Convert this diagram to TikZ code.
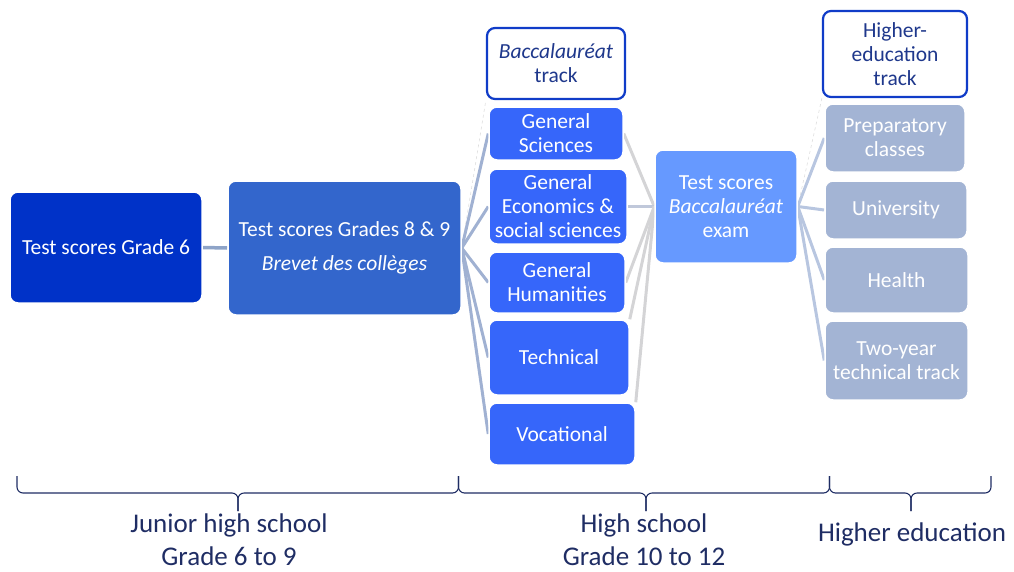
\documentclass[tikz,border=0pt]{standalone}
\usepackage{fontspec}
\setmainfont{Carlito}
\usetikzlibrary{backgrounds}
\definecolor{cgsix}{RGB}{0,50,200}
\definecolor{cgnine}{RGB}{51,102,204}
\definecolor{cbac}{RGB}{54,102,250}
\definecolor{cexam}{RGB}{102,153,255}
\definecolor{chigh}{RGB}{163,180,212}
\definecolor{ctrackb}{RGB}{16,60,200}
\definecolor{ctrackt}{RGB}{31,56,140}
\definecolor{cnavy}{RGB}{31,45,100}
\definecolor{clinea}{RGB}{160,177,210}
\definecolor{clineb}{RGB}{212,212,214}
\definecolor{clinec}{RGB}{184,198,224}
\definecolor{clined}{RGB}{192,200,218}
\definecolor{clinee}{RGB}{142,164,200}
\begin{document}
\begin{tikzpicture}[x=1pt,y=-1pt,
  box/.style={rounded corners=8pt, draw=white, line width=1.5pt, text=white, align=center,
    inner sep=0pt, font=\fontsize{21.5}{24}\selectfont},
  trackbox/.style={rounded corners=8pt, draw=ctrackb, fill=white, line width=2.2pt, text=ctrackt,
    align=center, inner sep=0pt, font=\fontsize{21.5}{24}\selectfont},
  lnA/.style={draw=clinea, line width=3pt},
  lnB/.style={draw=clineb, line width=3pt},
  lnC/.style={draw=clinec, line width=3pt},
  lnD/.style={draw=clined, line width=3pt},
  lnE/.style={draw=clinee, line width=3.5pt},
  faint/.style={draw=black!13, line width=0.6pt, dashed},
  brace/.style={draw=cnavy, line width=1.1pt, rounded corners=6pt},
  lab/.style={text=cnavy, align=center, inner sep=0pt, font=\fontsize{27}{33}\selectfont}
]
\useasboundingbox (0,0) rectangle (1014,571);

\path
 (106,247.5) node[box, fill=cgsix, minimum width=192pt, minimum height=111pt] (g6) {Test scores Grade 6}
 (344.5,248) node[box, fill=cgnine, minimum width=233pt, minimum height=134pt] (g89) {Test scores Grades 8 \& 9\\[10pt]\textit{Brevet des collèges}}
 (556,63.5) node[trackbox, minimum width=138pt, minimum height=71pt] (bac) {\textit{Baccalauréat}\\track}
 (556,133.5) node[box, fill=cbac, minimum width=134pt, minimum height=53pt] (sci) {General\\Sciences}
 (558,206.5) node[box, fill=cbac, minimum width=138pt, minimum height=75pt] (eco) {General\\Economics \&\\social sciences}
 (557,282.5) node[box, fill=cbac, minimum width=136pt, minimum height=61pt] (hum) {General\\Humanities}
 (559,357.5) node[box, fill=cbac, minimum width=140pt, minimum height=75pt] (tech) {Technical}
 (562,434) node[box, fill=cbac, minimum width=146pt, minimum height=62pt] (voc) {Vocational}
 (726,206.5) node[box, fill=cexam, minimum width=142pt, minimum height=113pt] (exam) {Test scores\\\textit{Baccalauréat}\\exam}
 (895,54) node[trackbox, minimum width=144pt, minimum height=86pt] (het) {Higher-\\education\\track}
 (895,138) node[box, fill=chigh, minimum width=140pt, minimum height=68pt] (prep) {Preparatory\\classes}
 (896,210) node[box, fill=chigh, minimum width=142pt, minimum height=58pt] (uni) {University}
 (896.5,280) node[box, fill=chigh, minimum width=143pt, minimum height=66pt] (hea) {Health}
 (896.5,360.5) node[box, fill=chigh, minimum width=143pt, minimum height=79pt] (two) {Two-year\\technical track};

\begin{scope}[on background layer]
  \draw[lnE] (g6.east) -- (g89.east -| g89.west);
  % fan from Grades 8 & 9
  \draw[faint] (g89.east) -- (bac.south west);
  \draw[lnA] (g89.east) -- (sci.west);
  \draw[lnA] (g89.east) -- (eco.west);
  \draw[lnA] (g89.east) -- (hum.west);
  \draw[lnA] (g89.east) -- (tech.west);
  \draw[lnA] (g89.east) -- (voc.west);
  % to exam
  \draw[lnB] (sci.east) -- (exam.west);
  \draw[lnD] (eco.east) -- (exam.west);
  \draw[lnB] (hum.east) -- (exam.west);
  \draw[lnB] (tech.north east) -- (exam.west);
  \draw[lnB] (voc.north east) -- (exam.west);
  % to higher education
  \draw[faint] (exam.east) -- (het.south west);
  \draw[lnC] (exam.east) -- (prep.west);
  \draw[lnC] (exam.east) -- (uni.west);
  \draw[lnC] (exam.east) -- (hea.west);
  \draw[lnC] (exam.east) -- (two.west);
\end{scope}

% braces
\coordinate (bA) at (17,476);
\coordinate (bB) at (458.5,476);
\coordinate (bC) at (829.5,476);
\coordinate (bD) at (991,476);
\coordinate (tA) at (238,511);
\coordinate (tB) at (646,511);
\coordinate (tC) at (911,511);
\draw[brace] (bA) -- (bA |- 0,493) -- (tA |- 0,493) -- (tA);
\draw[brace] (tA) -- (tA |- 0,493) -- (bB |- 0,493) -- (bB);
\draw[brace] (bB) -- (bB |- 0,493) -- (tB |- 0,493) -- (tB);
\draw[brace] (tB) -- (tB |- 0,493) -- (bC |- 0,493) -- (bC);
\draw[brace] (bC) -- (bC |- 0,493) -- (tC |- 0,493) -- (tC);
\draw[brace] (tC) -- (tC |- 0,493) -- (bD |- 0,493) -- (bD);

\node[lab] (lA) at (229,540) {Junior high school\\Grade 6 to 9};
\node[lab] (lB) at (644,540) {High school\\Grade 10 to 12};
\node[lab] (lC) at (912,534) {Higher education};
\end{tikzpicture}
\end{document}
